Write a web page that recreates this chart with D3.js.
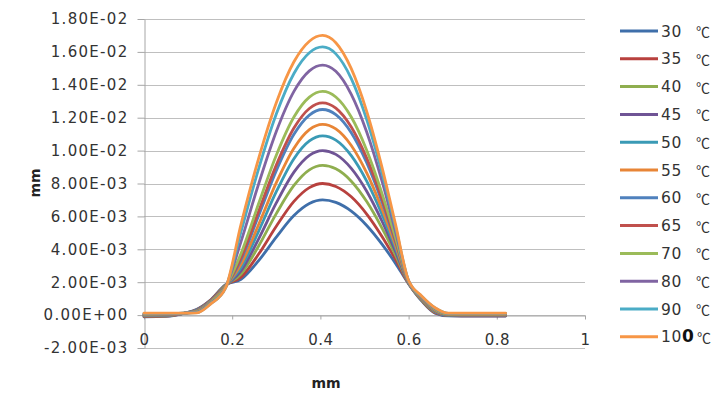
<!DOCTYPE html>
<html><head><meta charset="utf-8">
<script src="https://cdn.jsdelivr.net/npm/d3@7/dist/d3.min.js"></script>
<style>
body{margin:0;background:#fff;}
svg{display:block;}
</style></head><body>
<svg id="c" width="728" height="404"></svg>
<script>
// x positions (mm)
const xValues = [0, 0.05, 0.09, 0.12, 0.15, 0.185, 0.22, 0.26, 0.30, 0.34, 0.375, 0.405, 0.435, 0.47, 0.505, 0.54, 0.57, 0.60, 0.63, 0.66, 0.69, 0.72, 0.77, 0.82];
// series values in units of 1E-03 mm
const s30  = [-0.10,-0.08,0.10,0.35,0.90,1.85,2.17,3.31,4.74,6.05,6.78,7.00,6.85,6.32,5.45,4.30,3.16,1.90,0.85,0.12,-0.05,-0.06,-0.06,-0.06];
const s35  = [-0.08,-0.06,0.10,0.33,0.88,1.83,2.31,3.71,5.40,6.91,7.75,8.00,7.82,7.19,6.14,4.76,3.40,1.92,0.88,0.15,-0.03,-0.04,-0.04,-0.04];
const s40  = [-0.05,-0.04,0.11,0.31,0.85,1.81,2.50,4.20,6.17,7.88,8.83,9.10,8.89,8.14,6.90,5.27,3.66,1.94,0.91,0.19,-0.01,-0.02,-0.02,-0.02];
const s45  = [-0.03,-0.02,0.11,0.29,0.83,1.79,2.68,4.64,6.82,8.69,9.71,10.00,9.77,8.92,7.53,5.69,3.88,1.96,0.94,0.22,0.00,-0.01,-0.01,-0.01];
const s50  = [-0.01,0.00,0.11,0.27,0.80,1.77,2.89,5.11,7.50,9.51,10.59,10.90,10.64,9.70,8.15,6.11,4.09,1.98,0.97,0.25,0.02,0.01,0.01,0.01];
const s55  = [0.00,0.01,0.11,0.25,0.79,1.76,3.08,5.51,8.05,10.15,11.28,11.60,11.32,10.31,8.64,6.44,4.26,1.99,0.99,0.27,0.03,0.02,0.02,0.02];
const s60  = [0.02,0.03,0.11,0.23,0.76,1.74,3.36,6.05,8.78,10.99,12.16,12.50,12.19,11.09,9.26,6.86,4.48,2.01,1.02,0.30,0.04,0.04,0.04,0.04];
const s65  = [0.03,0.04,0.11,0.23,0.75,1.73,3.49,6.31,9.12,11.37,12.56,12.90,12.58,11.43,9.54,7.04,4.57,2.02,1.03,0.31,0.05,0.05,0.05,0.05];
const s70  = [0.05,0.06,0.12,0.21,0.74,1.72,3.75,6.78,9.72,12.04,13.25,13.60,13.26,12.04,10.02,7.37,4.74,2.03,1.05,0.34,0.06,0.06,0.06,0.06];
const s80  = [0.08,0.08,0.12,0.18,0.70,1.69,4.47,7.98,11.16,13.60,14.85,15.20,14.82,13.42,11.13,8.11,5.12,2.06,1.10,0.39,0.09,0.09,0.09,0.09];
const s90  = [0.10,0.10,0.12,0.15,0.67,1.66,5.07,8.90,12.22,14.69,15.95,16.30,15.88,14.38,11.89,8.62,5.39,2.09,1.13,0.43,0.11,0.11,0.11,0.11];
const s100 = [0.12,0.12,0.12,0.14,0.65,1.65,5.52,9.53,12.91,15.40,16.65,17.00,16.56,14.98,12.38,8.95,5.56,2.10,1.15,0.45,0.12,0.12,0.12,0.12];

const seriesNames = ["30","35","40","45","50","55","60","65","70","80","90","100"];
const seriesValues = [s30,s35,s40,s45,s50,s55,s60,s65,s70,s80,s90,s100];
const seriesColors = ["#3F6FAA","#B8413E","#8FAE4F","#6F5495","#3A9AB5","#E88536","#4F81BD","#C0504D","#9BBB59","#8064A2","#4BACC6","#F79646"];

const yTickValues = [-2,0,2,4,6,8,10,12,14,16,18];
const yTickLabels = ["-2.00E-03","0.00E+00","2.00E-03","4.00E-03","6.00E-03","8.00E-03","1.00E-02","1.20E-02","1.40E-02","1.60E-02","1.80E-02"];
const xTickValues = [0,0.2,0.4,0.6,0.8,1];
const xTickLabels = ["0","0.2","0.4","0.6","0.8","1"];
const unit = "℃";
const axisTitleX = "mm", axisTitleY = "mm";

const svg = d3.select("#c");
const x = d3.scaleLinear().domain([0,1]).range([144,585]);
const y = d3.scaleLinear().domain([-2,18]).range([348,19]);
const font = "'DejaVu Sans', Verdana, sans-serif";
const txt = "#333";

// gridlines
svg.append("g").selectAll("line").data(yTickValues).join("line")
  .attr("x1", x(0)).attr("x2", x(1))
  .attr("y1", d=>Math.round(y(d))+0.5).attr("y2", d=>Math.round(y(d))+0.5)
  .attr("stroke","#BFBFBF").attr("stroke-width",1);

// y axis
const yAxis = svg.append("g").attr("transform",`translate(${x(0)+0.5},0)`)
  .call(d3.axisLeft(y).tickValues(yTickValues).tickSize(7).tickSizeOuter(0).tickPadding(9)
    .tickFormat((d,i)=>yTickLabels[i]));
yAxis.select(".domain").attr("stroke","#A6A6A6");
yAxis.selectAll(".tick line").attr("stroke","#A6A6A6");
yAxis.selectAll(".tick text").attr("font-family",font).attr("font-size",15)
  .attr("fill",txt).attr("letter-spacing","1.3px");

// x axis at zero
const xAxis = svg.append("g").attr("transform",`translate(0,${Math.round(y(0))+0.5})`)
  .call(d3.axisBottom(x).tickValues(xTickValues).tickSize(4).tickSizeOuter(0).tickPadding(15)
    .tickFormat((d,i)=>xTickLabels[i]));
xAxis.select(".domain").attr("stroke","#A6A6A6");
xAxis.selectAll(".tick line").attr("stroke","#A6A6A6");
xAxis.selectAll(".tick text").attr("font-family",font).attr("font-size",15)
  .attr("fill",txt).attr("letter-spacing","0.4px");

// lines
const line = d3.line().x((d,i)=>x(xValues[i])).y(d=>y(d)).curve(d3.curveMonotoneX);
svg.append("g").selectAll("path").data(seriesValues).join("path")
  .attr("d", d=>line(d)).attr("fill","none")
  .attr("stroke",(d,i)=>seriesColors[i]).attr("stroke-width",2.8)
  .attr("stroke-linejoin","round").attr("stroke-linecap","round");

// axis titles
svg.append("text").attr("x",326).attr("y",388).attr("text-anchor","middle")
  .attr("font-family",font).attr("font-size",14).attr("font-weight","bold").attr("fill","#222").text(axisTitleX);
svg.append("text").attr("transform","translate(40,183) rotate(-90)").attr("text-anchor","middle")
  .attr("font-family",font).attr("font-size",14).attr("font-weight","bold").attr("fill","#222").text(axisTitleY);

// legend
const lg = svg.append("g").selectAll("g").data(seriesNames).join("g")
  .attr("transform",(d,i)=>`translate(0,${31 + i*27.8})`);
lg.append("line").attr("x1",620).attr("x2",658).attr("y1",0).attr("y2",0)
  .attr("stroke",(d,i)=>seriesColors[i]).attr("stroke-width",3);
const lt = lg.append("text").attr("x",661).attr("y",5.5)
  .attr("font-family",font).attr("font-size",15.5).attr("fill",txt).attr("letter-spacing","0.6px");
lt.each(function(d){
  const t = d3.select(this);
  if (d === "100") {
    t.append("tspan").text("10");
    t.append("tspan").attr("font-weight","bold").attr("font-size",17).attr("fill","#111").text("0");
  } else {
    t.text(d);
  }
});
lg.append("text").attr("x",(d)=> d==="100" ? 697 : 696).attr("y",6)
  .attr("font-family","'Noto Sans CJK SC', sans-serif").attr("font-size",14).attr("fill",txt)
  .text(unit);
</script>
</body></html>
